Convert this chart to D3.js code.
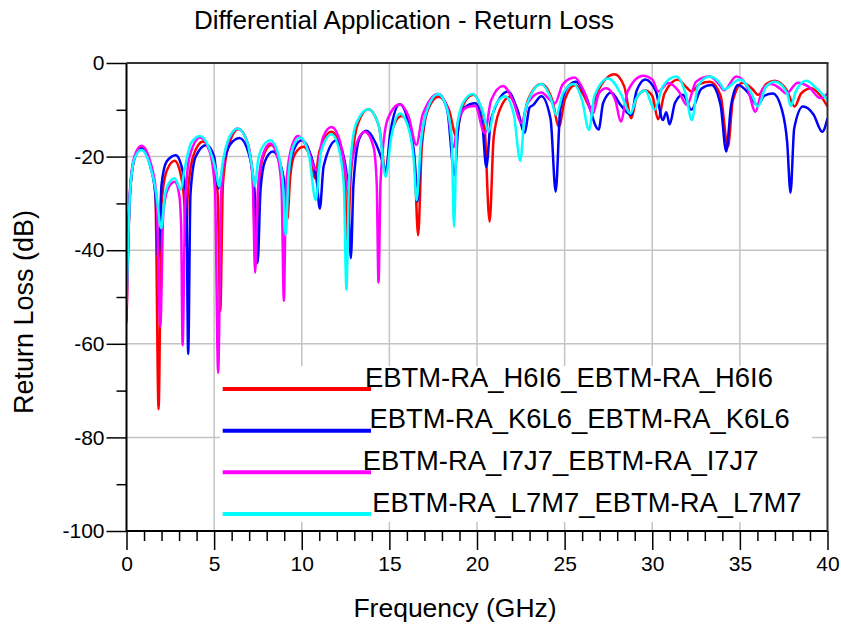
<!DOCTYPE html>
<html lang="en">
<head>
<meta charset="UTF-8">
<title>Differential Application - Return Loss</title>
<script src="https://d3js.org/d3.v7.min.js"></script>
<style>
  body { margin: 0; background: #fff; }
  svg text { font-family: 'Liberation Sans', Arial, sans-serif; fill: #000; }
</style>
</head>
<body>
<svg id="chart" width="841" height="631"></svg>
<script>
// frequency in GHz, return loss in dB
const redH6I6 = [[0,-55],[0.2,-28],[0.45,-20.5],[0.85,-18.0],[1.35,-21.5],[1.65,-28],[1.83,-74],[2.0,-30],[2.3,-23],[2.75,-20.9],[3.1,-24],[3.3,-30],[3.38,-39],[3.5,-28],[3.8,-20],[4.37,-16.8],[4.9,-20],[5.2,-28],[5.35,-53],[5.5,-26],[5.8,-18],[6.4,-14.1],[6.9,-17],[7.2,-24],[7.38,-43],[7.55,-26],[7.8,-20],[8.25,-17.5],[8.75,-21],[9.0,-26],[9.17,-33.5],[9.35,-24],[9.6,-19.5],[10.1,-17.9],[10.5,-20.5],[10.75,-24.6],[11.0,-19],[11.7,-14.7],[12.2,-18],[12.45,-24],[12.6,-38],[12.8,-24],[13.2,-13],[13.8,-9.9],[14.4,-13.5],[14.79,-22.9],[15.1,-15],[15.7,-11.3],[16.2,-15],[16.45,-22],[16.64,-36.8],[16.85,-18],[17.2,-10],[17.8,-7.2],[18.4,-10],[18.82,-15.7],[19.1,-10],[19.77,-6.8],[20.4,-12],[20.72,-33.9],[20.95,-16],[21.3,-10],[21.87,-7.2],[22.3,-10],[22.55,-12.9],[22.9,-8],[23.67,-4.5],[24.3,-8],[24.68,-13.6],[25.0,-8],[25.6,-4.7],[26.1,-7],[26.5,-9.7],[26.9,-6],[27.85,-2.4],[28.4,-5],[28.8,-11.8],[29.1,-7.5],[29.6,-5.9],[30.0,-7],[30.33,-12.0],[30.7,-6.5],[31.47,-3.5],[31.9,-5],[32.25,-6.1],[32.7,-4.5],[33.3,-4.0],[33.9,-7],[34.32,-17.9],[34.6,-8],[35.17,-4.2],[35.7,-5.5],[36.05,-6.8],[36.5,-4.5],[36.98,-3.8],[37.7,-6],[38.12,-9.3],[38.5,-6.5],[39.07,-5.4],[39.6,-7],[40,-9.3]];

const blueK6L6 = [[0,-50],[0.2,-28],[0.45,-20.5],[0.85,-18.3],[1.35,-22],[1.65,-28],[1.82,-42],[2.0,-26],[2.3,-21],[2.81,-19.7],[3.2,-23],[3.42,-30],[3.52,-62.2],[3.65,-28],[3.95,-20],[4.56,-17.5],[5.0,-20],[5.25,-26.8],[5.5,-22],[5.9,-17.5],[6.45,-16.0],[6.95,-19],[7.3,-27],[7.48,-42.7],[7.65,-27],[7.9,-21],[8.35,-18.9],[8.8,-22],[9.0,-26],[9.1,-32],[9.25,-24],[9.55,-18.5],[10.0,-16.5],[10.5,-19.5],[10.85,-25],[11.03,-31.1],[11.25,-22],[11.98,-16.5],[12.45,-21],[12.65,-28],[12.8,-41.7],[12.95,-26],[13.3,-16],[13.69,-14.5],[14.2,-17],[14.6,-21],[14.8,-23.5],[15.05,-15],[15.59,-8.8],[16.1,-13],[16.45,-21],[16.6,-29.6],[16.8,-18],[17.2,-9.5],[17.78,-6.6],[18.3,-10],[18.72,-24],[18.95,-13],[19.3,-9.5],[19.9,-8.6],[20.3,-13],[20.53,-22.2],[20.8,-12],[21.77,-6.1],[22.3,-10],[22.72,-14.9],[23.0,-9.5],[23.2,-9],[23.67,-7.1],[24.2,-12],[24.49,-27.5],[24.75,-10],[25.2,-5],[25.65,-4.0],[26.2,-7],[26.94,-14.2],[27.2,-8.5],[27.66,-6.3],[28.2,-9],[28.8,-11.1],[29.1,-6],[29.6,-3.5],[30.2,-6],[30.61,-12.2],[30.8,-10.5],[30.99,-13.1],[31.3,-8.5],[31.75,-6.8],[32.23,-10.0],[32.8,-5.5],[33.37,-4.7],[33.9,-9],[34.22,-18.9],[34.5,-9],[34.9,-4.7],[35.5,-6.5],[36.0,-9.0],[36.4,-7],[36.88,-6.5],[37.4,-10],[37.7,-17],[37.89,-27.7],[38.1,-14],[38.6,-9.3],[39.2,-11],[39.7,-14.7],[40,-11.8]];

const magentaI7J7 = [[0,-55.6],[0.2,-27],[0.45,-20],[0.85,-17.7],[1.35,-21],[1.7,-28],[1.93,-56.3],[2.1,-32],[2.35,-27],[2.75,-25.4],[3.0,-28],[3.12,-35],[3.2,-60.3],[3.35,-30],[3.6,-20],[4.2,-15.9],[4.75,-19],[5.05,-27],[5.23,-66.2],[5.4,-28],[5.7,-18],[6.35,-14.0],[6.9,-17],[7.2,-25],[7.34,-44.8],[7.5,-27],[7.75,-20],[8.2,-17.2],[8.65,-20.5],[8.85,-27],[8.98,-50.8],[9.1,-27],[9.35,-19],[9.78,-15.6],[10.3,-18],[10.84,-22.9],[11.2,-16],[11.7,-13.7],[12.2,-17],[12.45,-22],[12.65,-27],[12.85,-21],[13.6,-14.7],[14.1,-18],[14.28,-26],[14.38,-46.9],[14.5,-25],[14.9,-12],[15.59,-8.8],[16.1,-11.5],[16.54,-17.5],[16.9,-11],[17.78,-6.6],[18.3,-9.5],[18.65,-18],[18.95,-12],[19.4,-9.5],[19.9,-9.2],[20.44,-15.0],[20.8,-8],[21.49,-4.9],[22.1,-8.5],[22.53,-12.9],[22.9,-8.5],[23.67,-6.3],[24.2,-8],[24.45,-8.6],[24.9,-4.5],[25.57,-3.1],[26.1,-6],[26.62,-10.8],[26.95,-6.5],[27.38,-5.4],[27.9,-8],[28.2,-12.5],[28.6,-6],[29.47,-2.7],[30.0,-3.5],[30.35,-6.1],[30.9,-4.3],[31.5,-6],[31.98,-9],[32.5,-4],[33.27,-2.9],[33.8,-4.5],[34.1,-5.8],[34.79,-2.9],[35.4,-5],[35.89,-10.4],[36.3,-5.5],[36.8,-4.5],[37.3,-5.5],[37.65,-6.5],[38.3,-4.2],[38.9,-5],[39.6,-7.5],[40,-6.5]];

const cyanL7M7 = [[0,-51.7],[0.2,-28],[0.45,-20.5],[0.85,-18.6],[1.35,-22],[1.7,-28],[1.98,-35.3],[2.2,-28],[2.5,-25.2],[2.75,-24.6],[3.1,-27.1],[3.3,-23],[3.7,-17],[4.21,-15.6],[4.75,-18.5],[5.1,-23],[5.28,-26.4],[5.5,-21],[5.85,-16],[6.35,-14.0],[6.9,-17],[7.15,-22],[7.32,-26.3],[7.5,-21],[7.75,-18],[8.2,-16.5],[8.7,-20],[8.95,-27],[9.08,-36.8],[9.25,-24],[9.5,-18],[9.9,-15.9],[10.4,-19.5],[10.8,-29.3],[11.1,-19],[11.7,-15.2],[12.1,-18],[12.4,-26],[12.55,-48.4],[12.7,-25],[13.1,-13],[13.8,-9.9],[14.4,-13.5],[14.79,-24.3],[15.1,-16],[15.6,-10.8],[16.1,-14],[16.4,-21],[16.55,-29.3],[16.8,-17],[17.2,-9.5],[17.78,-6.6],[18.3,-10],[18.55,-16],[18.69,-35],[18.85,-14],[19.2,-8.5],[19.75,-6.6],[20.3,-10],[20.67,-14.7],[21.0,-9.5],[21.6,-7.1],[22.1,-11],[22.47,-20.9],[22.75,-10],[23.67,-4.5],[24.2,-7.5],[24.53,-11.1],[24.9,-6.5],[25.5,-4.5],[26.0,-8],[26.39,-14.3],[26.7,-7],[27.5,-3.3],[28.2,-6.5],[28.75,-10.8],[29.1,-7.5],[29.6,-5.9],[30.13,-10.0],[30.6,-5],[31.37,-2.9],[31.9,-6.5],[32.26,-12.2],[32.6,-5],[33.27,-2.9],[33.9,-4.5],[34.1,-5.6],[35.0,-3.5],[35.6,-6],[36.03,-9.3],[36.5,-5],[37.0,-4.0],[37.7,-6.5],[37.9,-9.2],[38.2,-6],[38.78,-3.8],[39.4,-5.5],[40,-7.9]];

const seriesNames = ["EBTM-RA_H6I6_EBTM-RA_H6I6", "EBTM-RA_K6L6_EBTM-RA_K6L6", "EBTM-RA_I7J7_EBTM-RA_I7J7", "EBTM-RA_L7M7_EBTM-RA_L7M7"];
const seriesColors = ["#ff0000", "#0000ff", "#ff00ff", "#00ffff"];
const seriesData = [redH6I6, blueK6L6, magentaI7J7, cyanL7M7];

const xMajorTicks = [0, 5, 10, 15, 20, 25, 30, 35, 40];
const xMinorTicks = d3.range(0, 41).filter(d => d % 5 !== 0);
const yMajorTicks = [0, -20, -40, -60, -80, -100];
const yMinorTicks = [-10, -30, -50, -70, -90];

const plotLeft = 126.5, plotRight = 827.5, plotTop = 63, plotBottom = 531;

const svg = d3.select("#chart");
const x = d3.scaleLinear().domain([0, 40]).range([plotLeft, plotRight]);
const y = d3.scaleLinear().domain([-100, 0]).range([plotBottom, plotTop]);

// grid
const grid = svg.append("g").attr("stroke", "#c4c4c4").attr("stroke-width", 1.5);
grid.selectAll(".gx").data(xMajorTicks.slice(1, -1)).enter().append("line")
    .attr("x1", d => x(d)).attr("x2", d => x(d)).attr("y1", plotTop).attr("y2", plotBottom);
grid.selectAll(".gy").data(yMajorTicks.slice(1, -1)).enter().append("line")
    .attr("x1", plotLeft).attr("x2", plotRight).attr("y1", d => y(d)).attr("y2", d => y(d));

// legend background hides the grid behind it
svg.append("rect").attr("x", 220).attr("y", 366).attr("width", 592).attr("height", 156).attr("fill", "#fff");

// curves
svg.append("clipPath").attr("id", "plotClip").append("rect")
    .attr("x", plotLeft).attr("y", plotTop).attr("width", plotRight - plotLeft).attr("height", plotBottom - plotTop);

const line = d3.line().x(d => x(d[0])).y(d => y(d[1])).curve(d3.curveMonotoneX);

svg.append("g").attr("clip-path", "url(#plotClip)")
    .selectAll("path").data(seriesData).enter().append("path")
    .attr("d", line)
    .attr("fill", "none")
    .attr("stroke", (d, i) => seriesColors[i])
    .attr("stroke-width", 2.5)
    .attr("stroke-linejoin", "round");

// axes
function styleAxis(g) {
    g.select(".domain").remove();
    g.selectAll("line").attr("stroke", "#000").attr("stroke-width", 1.5);
    g.selectAll("text").style("font-size", "21px").style("font-family", "'Liberation Sans', Arial, sans-serif");
}

svg.append("g").attr("transform", "translate(0," + plotBottom + ")")
    .call(d3.axisBottom(x).tickValues(xMajorTicks).tickSize(19).tickPadding(6).tickFormat(d => String(d)))
    .call(styleAxis);
svg.append("g").attr("transform", "translate(0," + plotBottom + ")")
    .call(d3.axisBottom(x).tickValues(xMinorTicks).tickSize(10).tickFormat(""))
    .call(styleAxis);
svg.append("g").attr("transform", "translate(" + plotLeft + ",0)")
    .call(d3.axisLeft(y).tickValues(yMajorTicks).tickSize(20).tickPadding(2).tickFormat(d => String(d)))
    .call(styleAxis);
svg.append("g").attr("transform", "translate(" + plotLeft + ",0)")
    .call(d3.axisLeft(y).tickValues(yMinorTicks).tickSize(10).tickFormat(""))
    .call(styleAxis);

// frame
svg.append("line").attr("x1", plotLeft).attr("x2", plotLeft).attr("y1", plotTop).attr("y2", plotBottom).attr("stroke", "#000").attr("stroke-width", 2);
svg.append("line").attr("x1", plotLeft).attr("x2", plotRight).attr("y1", plotBottom).attr("y2", plotBottom).attr("stroke", "#000").attr("stroke-width", 2);
svg.append("line").attr("x1", plotLeft).attr("x2", plotRight + 1).attr("y1", plotTop).attr("y2", plotTop).attr("stroke", "#333").attr("stroke-width", 2);
svg.append("line").attr("x1", plotRight).attr("x2", plotRight).attr("y1", plotTop).attr("y2", plotBottom).attr("stroke", "#333").attr("stroke-width", 2);

// titles
svg.append("text").attr("x", 404).attr("y", 29).attr("text-anchor", "middle")
    .style("font-size", "26px").text("Differential Application - Return Loss");
svg.append("text").attr("x", 455).attr("y", 617).attr("text-anchor", "middle")
    .style("font-size", "26.5px").text("Frequency (GHz)");
svg.append("text").attr("transform", "translate(33,312) rotate(-90)").attr("text-anchor", "middle")
    .style("font-size", "27px").text("Return Loss (dB)");

// legend
const legendY = [389, 430.7, 472.3, 514];
const legendTextX = [365, 369.5, 362.7, 372.3];
const legendTextY = [386.7, 428.3, 470, 511.7];
const legend = svg.append("g");
legend.selectAll("line").data(seriesNames).enter().append("line")
    .attr("x1", 222.7).attr("x2", 371)
    .attr("y1", (d, i) => legendY[i]).attr("y2", (d, i) => legendY[i])
    .attr("stroke", (d, i) => seriesColors[i]).attr("stroke-width", 4);
legend.selectAll("text").data(seriesNames).enter().append("text")
    .attr("x", (d, i) => legendTextX[i]).attr("y", (d, i) => legendTextY[i])
    .style("font-size", "27.4px").text(d => d);
</script>
</body>
</html>
